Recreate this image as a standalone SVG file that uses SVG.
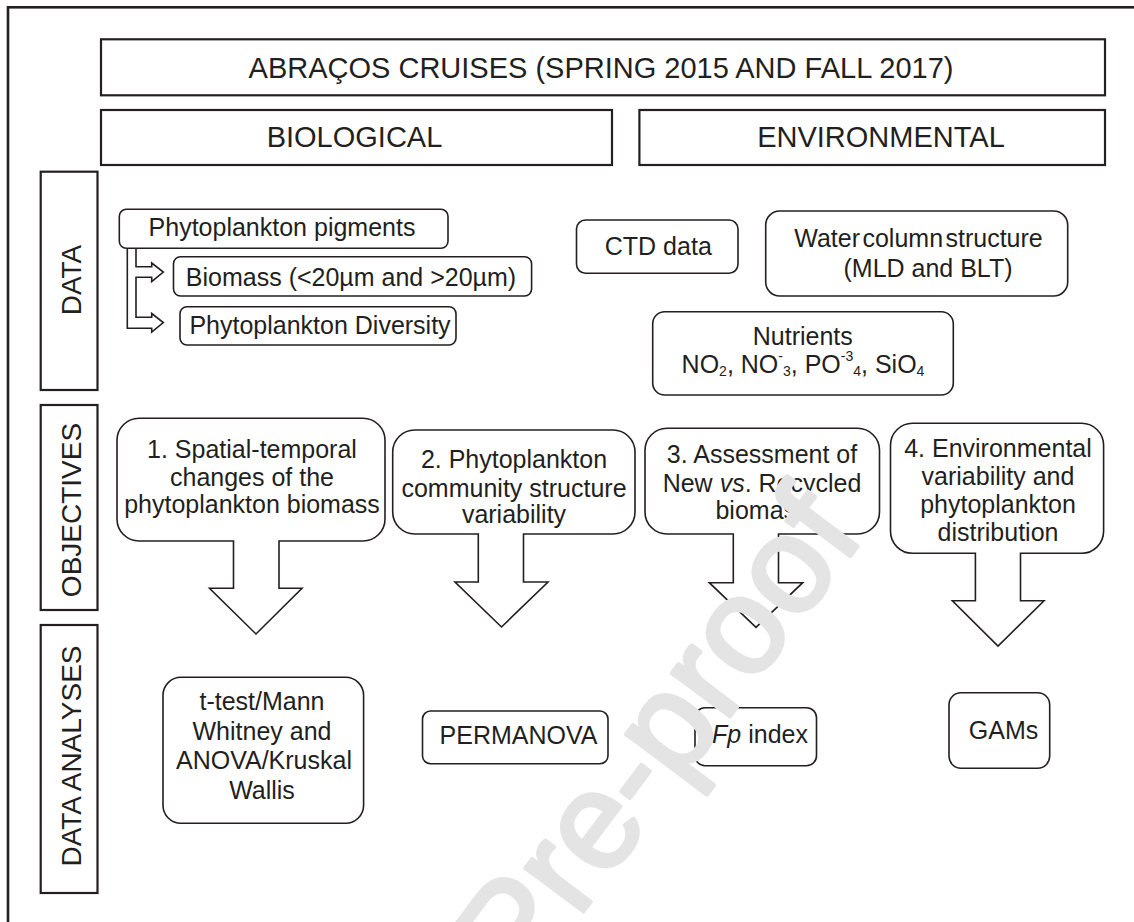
<svg xmlns="http://www.w3.org/2000/svg" width="1134" height="922" viewBox="0 0 1134 922">
<style>
  text { font-family: "Liberation Sans", Arial, sans-serif; fill: #231f20; }
  .hd { font-size: 29px; text-anchor: middle; }
  .sd { font-size: 28px; text-anchor: middle; }
  .t { font-size: 25px; text-anchor: middle; }
  .sq { fill: #fff; stroke: #231f20; stroke-width: 2.2; }
  .rb { fill: #fff; stroke: #231f20; stroke-width: 1.6; }
  .co { fill: #fff; stroke: #231f20; stroke-width: 1.6; stroke-linejoin: miter; }
  .sub { font-size: 14px; }
  .wm { font-family: "Liberation Sans", Arial, sans-serif; font-size: 137px; fill: #e4e4e4; stroke: #e4e4e4; stroke-width: 4; stroke-linejoin: round; }
</style>
<rect width="1134" height="922" fill="#fff"/>
<rect x="8" y="7.3" width="1200" height="1000" fill="none" stroke="#231f20" stroke-width="2.6"/>

<g id="title">
  <rect class="sq" x="101" y="39.3" width="1004" height="56"/>
  <text class="hd" x="601" y="78.3">ABRAÇOS CRUISES (SPRING 2015 AND FALL 2017)</text>
</g>
<g id="biological">
  <rect class="sq" x="101" y="110" width="511" height="55"/>
  <text class="hd" x="354.5" y="147.3">BIOLOGICAL</text>
</g>
<g id="environmental">
  <rect class="sq" x="639.4" y="110" width="465.6" height="55"/>
  <text class="hd" x="881" y="147.3">ENVIRONMENTAL</text>
</g>

<g id="label-data">
  <rect class="sq" x="40.7" y="171.7" width="56.8" height="218.3"/>
  <text class="sd" transform="translate(80.5,280) rotate(-90)">DATA</text>
</g>
<g id="label-objectives">
  <rect class="sq" x="40.7" y="405" width="56.8" height="205"/>
  <text class="sd" transform="translate(80.5,510) rotate(-90)">OBJECTIVES</text>
</g>
<g id="label-analyses">
  <rect class="sq" x="40.7" y="625" width="56.8" height="268"/>
  <text class="sd" transform="translate(80.5,756) rotate(-90)">DATA ANALYSES</text>
</g>

<g id="connectors">
  <path class="co" d="M127.3,248 V328.3 H151.7 V332 L163.3,322.5 L151.7,313.5 V317.3 H136 V277.3 H151.7 V281.5 L163.3,272 L151.7,263 V266.7 H136 V248"/>
</g>

<g id="pigments">
  <rect class="rb" x="119.3" y="209.3" width="328.7" height="39" rx="7"/>
  <text class="t" x="282" y="236">Phytoplankton pigments</text>
</g>
<g id="biomass">
  <rect class="rb" x="173.5" y="256.7" width="358.1" height="39.3" rx="7"/>
  <text class="t" x="351" y="286">Biomass (&lt;20µm and &gt;20µm)</text>
</g>
<g id="diversity">
  <rect class="rb" x="180" y="306.7" width="276" height="38.3" rx="7"/>
  <text class="t" x="320" y="334.3">Phytoplankton Diversity</text>
</g>

<g id="ctd">
  <rect class="rb" x="576.5" y="220" width="161.5" height="53.3" rx="9"/>
  <text class="t" x="658.3" y="255">CTD data</text>
</g>
<g id="watercolumn">
  <rect class="rb" x="765.7" y="211" width="302" height="85" rx="14"/>
  <text class="t" x="918.5" y="246.7" word-spacing="-4.5">Water column structure</text>
  <text class="t" x="928" y="276.7">(MLD and BLT)</text>
</g>
<g id="nutrients">
  <rect class="rb" x="652.7" y="311.7" width="300.6" height="83.3" rx="12"/>
  <text class="t" x="802.8" y="345">Nutrients</text>
  <text class="t" x="803" y="372.7">NO<tspan class="sub" dy="3.5">2</tspan><tspan dy="-3.5">, NO</tspan><tspan class="sub" dy="-11.5">-</tspan><tspan class="sub" dy="15">3</tspan><tspan dy="-3.5">, PO</tspan><tspan class="sub" dy="-11.5">-3</tspan><tspan class="sub" dy="15">4</tspan><tspan dy="-3.5">, SiO</tspan><tspan class="sub" dy="3.5">4</tspan></text>
</g>

<g id="objective1">
  <path class="co" d="M139,418.3 H363 A22,22 0 0 1 385,440.3 V519 A22,22 0 0 1 363,541 H279 V588.3 H302 L256,634 L209.5,588.3 H233.5 V541 H139 A22,22 0 0 1 117,519 V440.3 A22,22 0 0 1 139,418.3 Z"/>
  <text class="t" x="252" y="458.3">1. Spatial-temporal</text>
  <text class="t" x="252" y="486">changes of the</text>
  <text class="t" x="252" y="513">phytoplankton biomass</text>
</g>
<g id="objective2">
  <path class="co" d="M414.7,430 H613 A22,22 0 0 1 635,452 V512 A22,22 0 0 1 613,534 H523.5 V582 H548 L501.5,627 L455,582 H478.3 V534 H414.7 A22,22 0 0 1 392.7,512 V452 A22,22 0 0 1 414.7,430 Z"/>
  <text class="t" x="514" y="468">2. Phytoplankton</text>
  <text class="t" x="514" y="496.5">community structure</text>
  <text class="t" x="514" y="523.3">variability</text>
</g>
<g id="objective3">
  <path class="co" d="M667,428.3 H857.5 A22,22 0 0 1 879.5,450.3 V512 A22,22 0 0 1 857.5,534 H778.5 V582.7 H802.7 L756,627.3 L709.3,582.7 H733.3 V534 H667 A22,22 0 0 1 645,512 V450.3 A22,22 0 0 1 667,428.3 Z"/>
  <text class="t" x="762" y="463.3">3. Assessment of</text>
  <text class="t" x="762" y="491.7">New <tspan font-style="italic">vs</tspan>. Recycled</text>
  <text class="t" x="762" y="519.3">biomass</text>
</g>
<g id="objective4">
  <path class="co" d="M912.5,423.3 H1081.6 A22,22 0 0 1 1103.6,445.3 V531.3 A22,22 0 0 1 1081.6,553.3 H1020.5 V600.7 H1044 L998,646 L952.4,600.7 H975.4 V553.3 H912.5 A22,22 0 0 1 890.5,531.3 V445.3 A22,22 0 0 1 912.5,423.3 Z"/>
  <text class="t" x="998" y="456.7">4. Environmental</text>
  <text class="t" x="998" y="485">variability and</text>
  <text class="t" x="998" y="512.7">phytoplankton</text>
  <text class="t" x="998" y="540.7">distribution</text>
</g>

<g id="ttest">
  <rect class="rb" x="163" y="677.3" width="200.6" height="146" rx="18"/>
  <text class="t" x="262" y="710">t-test/Mann</text>
  <text class="t" x="262" y="740">Whitney and</text>
  <text class="t" x="264" y="769.3">ANOVA/Kruskal</text>
  <text class="t" x="262" y="799.3">Wallis</text>
</g>
<g id="permanova">
  <rect class="rb" x="422.5" y="711" width="185.5" height="52.7" rx="8"/>
  <text class="t" x="518.5" y="744">PERMANOVA</text>
</g>
<g id="fpindex">
  <rect class="rb" x="695" y="707.7" width="121.5" height="58" rx="10"/>
  <text class="t" x="760" y="743.3"><tspan font-style="italic">Fp</tspan> index</text>
</g>
<g id="gams">
  <rect class="rb" x="949" y="692.7" width="100.7" height="75.6" rx="12"/>
  <text class="t" x="1003.5" y="739">GAMs</text>
</g>

<g id="watermark">
  <text class="wm" transform="translate(523,992) rotate(-53.1)">Pre-proof</text>
</g>
</svg>
